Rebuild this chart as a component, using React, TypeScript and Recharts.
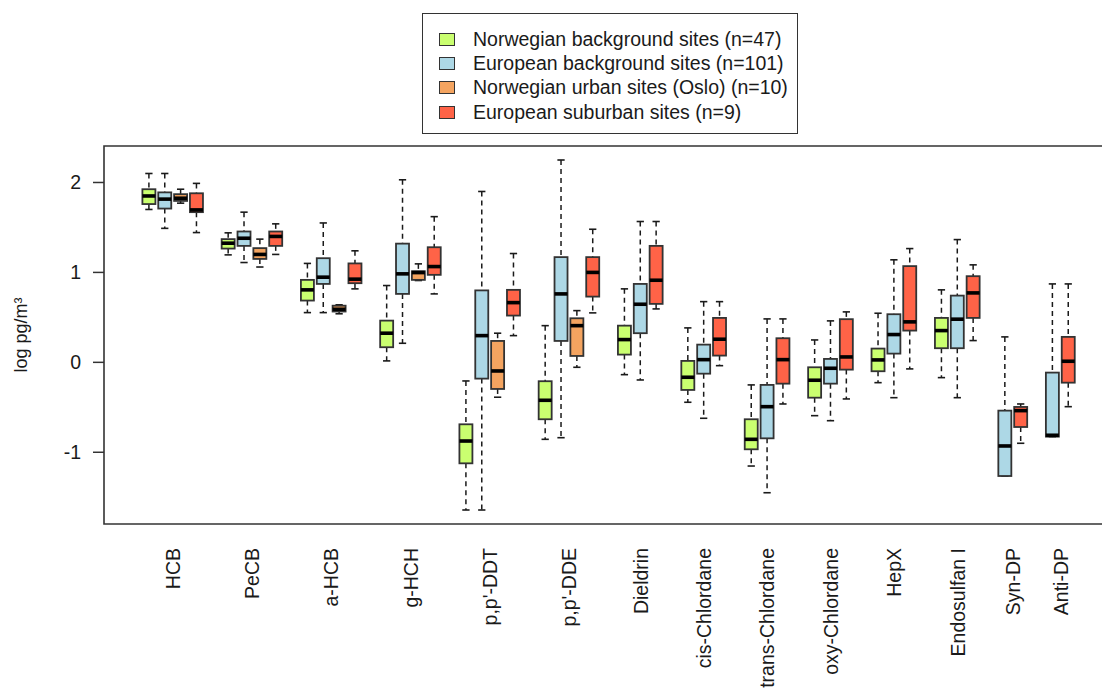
import {
  Bar,
  ComposedChart,
  Legend,
  ReferenceArea,
  XAxis,
  YAxis,
} from "recharts";

// box stats per compound: [lower whisker, q1, median, q3, upper whisker], null = not measured
const COMPOUNDS = [
  "HCB",
  "PeCB",
  "a-HCB",
  "g-HCH",
  "p,p'-DDT",
  "p,p'-DDE",
  "Dieldrin",
  "cis-Chlordane",
  "trans-Chlordane",
  "oxy-Chlordane",
  "HepX",
  "Endosulfan I",
  "Syn-DP",
  "Anti-DP",
];

const SERIES_NAMES = [
  "Norwegian background sites (n=47)",
  "European background sites (n=101)",
  "Norwegian urban sites (Oslo) (n=10)",
  "European suburban sites (n=9)",
];

const SERIES_COLORS = ["#CAFF70", "#ADD8E6", "#F4A460", "#FF6347"];

const NOR_BACKGROUND = [
  [1.7, 1.76, 1.85, 1.925, 2.1],
  [1.195, 1.265, 1.325, 1.37, 1.44],
  [0.553, 0.687, 0.806, 0.917, 1.1],
  [0.016, 0.168, 0.324, 0.464, 0.854],
  [-1.642, -1.123, -0.875, -0.689, -0.207],
  [-0.856, -0.633, -0.422, -0.21, 0.408],
  [-0.137, 0.086, 0.253, 0.408, 0.817],
  [-0.444, -0.307, -0.166, 0.016, 0.383],
  [-1.153, -0.967, -0.856, -0.633, -0.251],
  [-0.593, -0.393, -0.199, -0.055, 0.249],
  [-0.226, -0.099, 0.027, 0.153, 0.546],
  [-0.17, 0.157, 0.353, 0.494, 0.806],
  null,
  null,
];

const EUR_BACKGROUND = [
  [1.49, 1.71, 1.815, 1.89, 2.1],
  [1.11, 1.295, 1.38, 1.455, 1.67],
  [0.553, 0.872, 0.947, 1.158, 1.55],
  [0.212, 0.761, 0.984, 1.32, 2.03],
  [-1.642, -0.181, 0.297, 0.8, 1.9],
  [-0.838, 0.238, 0.761, 1.17, 2.25],
  [-0.196, 0.324, 0.646, 0.872, 1.566],
  [-0.622, -0.126, 0.03, 0.197, 0.675],
  [-1.45, -0.845, -0.493, -0.251, 0.483],
  [-0.649, -0.237, -0.066, 0.038, 0.461],
  [-0.393, 0.097, 0.309, 0.535, 1.14],
  [-0.393, 0.157, 0.48, 0.742, 1.365],
  [-1.264, -1.264, -0.93, -0.537, 0.283],
  [-0.826, -0.826, -0.811, -0.114, 0.872],
];

const NOR_URBAN = [
  [1.77, 1.795, 1.825, 1.87, 1.925],
  [1.06, 1.15, 1.2, 1.27, 1.37],
  [0.54, 0.565, 0.59, 0.63, 0.64],
  [0.91, 0.917, 0.998, 1.013, 1.095],
  [-0.388, -0.296, -0.096, 0.238, 0.324],
  [-0.055, 0.071, 0.408, 0.49, 0.575],
  null,
  null,
  null,
  null,
  null,
  null,
  null,
  null,
];

const EUR_SUBURBAN = [
  [1.443, 1.67, 1.695, 1.88, 1.99],
  [1.2, 1.295, 1.4, 1.455, 1.54],
  [0.817, 0.88, 0.925, 1.1, 1.24],
  [0.761, 0.973, 1.065, 1.28, 1.62],
  [0.297, 0.52, 0.664, 0.806, 1.21],
  [0.55, 0.731, 1.0, 1.17, 1.48],
  [0.594, 0.65, 0.913, 1.295, 1.566],
  [-0.037, 0.075, 0.257, 0.494, 0.675],
  [-0.463, -0.237, 0.03, 0.268, 0.483],
  [-0.407, -0.081, 0.06, 0.48, 0.561],
  [-0.073, 0.353, 0.45, 1.07, 1.265],
  [0.242, 0.494, 0.772, 0.958, 1.084],
  [-0.9, -0.719, -0.537, -0.496, -0.463],
  [-0.493, -0.226, 0.012, 0.283, 0.872],
];

const Y_TICKS = [-1, 0, 1, 2];

const STATS = [NOR_BACKGROUND, EUR_BACKGROUND, NOR_URBAN, EUR_SUBURBAN];

type BoxRow = {
  pos: number;
  series: number;
  lo: number;
  q1: number;
  med: number;
  q3: number;
  hi: number;
  range: [number, number];
};

// one slot per box, one empty slot between compounds (like boxplot(at=...))
const rows: BoxRow[] = [];
const groupCenters: number[] = [];
let slot = 0;
COMPOUNDS.forEach((_, ci) => {
  const first = slot + 1;
  STATS.forEach((series, si) => {
    const s = series[ci];
    if (!s) return;
    slot += 1;
    rows.push({
      pos: slot,
      series: si,
      lo: s[0],
      q1: s[1],
      med: s[2],
      q3: s[3],
      hi: s[4],
      range: [s[0], s[4]],
    });
  });
  groupCenters.push((first + slot) / 2);
  slot += 1;
});

// R-style axis limits: 4% extension
const xLo = 0.5;
const xHi = rows[rows.length - 1].pos + 0.5;
const xExt = (xHi - xLo) * 0.04;
const X_DOMAIN: [number, number] = [xLo - xExt, xHi + xExt];
const yMin = Math.min(...rows.map((r) => r.lo));
const yMax = Math.max(...rows.map((r) => r.hi));
const yExt = (yMax - yMin) * 0.04;
const Y_DOMAIN: [number, number] = [yMin - yExt, yMax + yExt];

const FONT = "'Liberation Sans', Arial, sans-serif";
const INK = "#1a1a1a";

function BoxShape(props: any) {
  const { x, y, width, height, payload } = props;
  if (!payload || height == null) return null;
  const { lo, q1, med, q3, hi, series } = payload as BoxRow;
  const top = Math.min(y, y + height);
  const h = Math.abs(height);
  const py = (v: number) => top + (h * (hi - v)) / (hi - lo);
  const cx = x + width / 2;
  const cap = width * 0.28;
  return (
    <g>
      <line x1={cx} x2={cx} y1={py(hi)} y2={py(q3)} stroke={INK} strokeWidth={1.5} strokeDasharray="5 4" />
      <line x1={cx} x2={cx} y1={py(q1)} y2={py(lo)} stroke={INK} strokeWidth={1.5} strokeDasharray="5 4" />
      <line x1={cx - cap} x2={cx + cap} y1={py(hi)} y2={py(hi)} stroke={INK} strokeWidth={1.6} />
      <line x1={cx - cap} x2={cx + cap} y1={py(lo)} y2={py(lo)} stroke={INK} strokeWidth={1.6} />
      <rect
        x={x}
        y={py(q3)}
        width={width}
        height={Math.max(py(q1) - py(q3), 0.5)}
        fill={SERIES_COLORS[series]}
        stroke="#333"
        strokeWidth={1.8}
      />
      <line x1={x} x2={x + width} y1={py(med)} y2={py(med)} stroke="#000" strokeWidth={3.6} />
    </g>
  );
}

function XTick(props: any) {
  const { x, y, payload } = props;
  let idx = 0;
  groupCenters.forEach((c, i) => {
    if (Math.abs(c - payload.value) < Math.abs(groupCenters[idx] - payload.value)) idx = i;
  });
  return (
    <text
      x={x}
      y={y}
      dy="0.35em"
      transform={`rotate(-90 ${x} ${y})`}
      textAnchor="end"
      fontFamily={FONT}
      fontSize={19.5}
      fill={INK}
    >
      {COMPOUNDS[idx]}
    </text>
  );
}

function YTitle(props: any) {
  const { viewBox } = props;
  const cx = viewBox.x + 21;
  const cy = viewBox.y + viewBox.height / 2;
  return (
    <text
      x={cx}
      y={cy}
      dy="0.35em"
      transform={`rotate(-90 ${cx} ${cy})`}
      textAnchor="middle"
      fontFamily={FONT}
      fontSize={18}
      fill={INK}
    >
      log pg/m³
    </text>
  );
}

function LegendBox() {
  return (
    <div
      style={{
        boxSizing: "border-box",
        width: 376,
        height: 121,
        border: "1.5px solid #333",
        padding: "13px 0 0 16px",
        fontFamily: FONT,
        fontSize: 19.5,
        color: INK,
        background: "#fff",
      }}
    >
      {SERIES_NAMES.map((name, i) => (
        <div key={name} style={{ display: "flex", alignItems: "center", height: 24.4 }}>
          <span
            style={{
              boxSizing: "border-box",
              display: "inline-block",
              width: 16,
              height: 13,
              background: SERIES_COLORS[i],
              border: "1.5px solid #333",
              marginRight: 18,
            }}
          />
          <span style={{ whiteSpace: "nowrap" }}>{name}</span>
        </div>
      ))}
    </div>
  );
}

export default function App() {
  return (
    <div
      style={{
        position: "absolute",
        left: 0,
        top: 0,
        width: 1102,
        height: 693,
        overflow: "hidden",
        background: "#fff",
      }}
    >
      <ComposedChart
        width={1114}
        height={693}
        data={rows}
        margin={{ top: 146, right: 0, bottom: 0, left: 0 }}
      >
        <XAxis
          dataKey="pos"
          type="number"
          domain={X_DOMAIN}
          ticks={groupCenters}
          allowDataOverflow
          interval={0}
          axisLine={false}
          tickLine={false}
          tickSize={0}
          tickMargin={24}
          height={169}
          tick={<XTick />}
        />
        <YAxis
          type="number"
          domain={Y_DOMAIN}
          ticks={Y_TICKS}
          allowDataOverflow
          width={104}
          axisLine={false}
          tickSize={11}
          tickMargin={12}
          tickLine={{ stroke: "#333", strokeWidth: 1.5 }}
          tick={{ fontFamily: FONT, fontSize: 19.5, fill: INK }}
          label={<YTitle />}
        />
        <ReferenceArea
          x1={X_DOMAIN[0]}
          x2={X_DOMAIN[1]}
          y1={Y_DOMAIN[0]}
          y2={Y_DOMAIN[1]}
          fill="none"
          fillOpacity={0}
          stroke="#333"
          strokeWidth={1.6}
          ifOverflow="visible"
        />
        <Bar dataKey="range" barSize={13} shape={<BoxShape />} isAnimationActive={false} />
        <Legend
          layout="vertical"
          align="center"
          verticalAlign="middle"
          wrapperStyle={{ left: 422, top: 13, width: 376, height: 121 }}
          content={<LegendBox />}
        />
      </ComposedChart>
    </div>
  );
}
